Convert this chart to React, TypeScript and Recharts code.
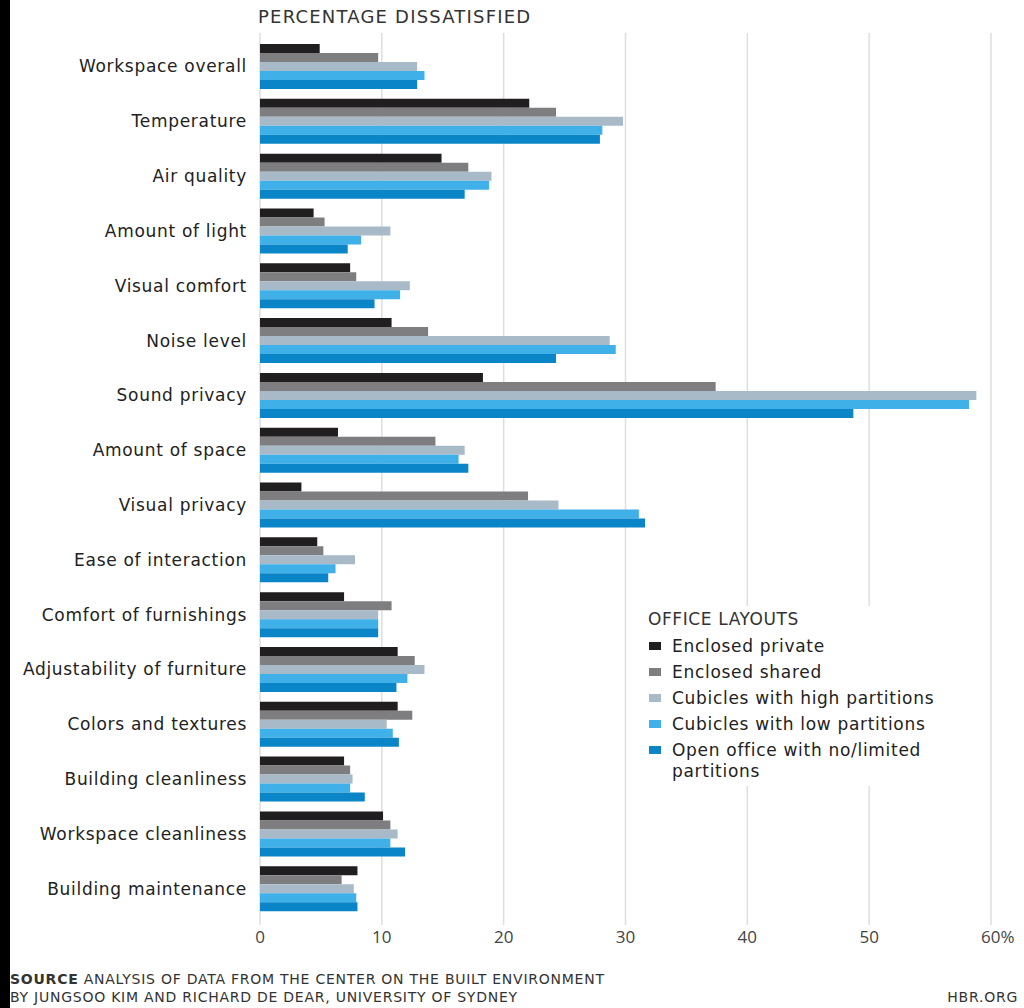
import React from 'react';
import { BarChart, Bar, XAxis, YAxis, CartesianGrid } from 'recharts';

const categories = [
  'Workspace overall', 'Temperature', 'Air quality', 'Amount of light', 'Visual comfort',
  'Noise level', 'Sound privacy', 'Amount of space', 'Visual privacy', 'Ease of interaction',
  'Comfort of furnishings', 'Adjustability of furniture', 'Colors and textures',
  'Building cleanliness', 'Workspace cleanliness', 'Building maintenance',
];

const enclosedPrivate = [4.9, 22.1, 14.9, 4.4, 7.4, 10.8, 18.3, 6.4, 3.4, 4.7, 6.9, 11.3, 11.3, 6.9, 10.1, 8.0];
const enclosedShared = [9.7, 24.3, 17.1, 5.3, 7.9, 13.8, 37.4, 14.4, 22.0, 5.2, 10.8, 12.7, 12.5, 7.4, 10.7, 6.7];
const cubiclesHigh = [12.9, 29.8, 19.0, 10.7, 12.3, 28.7, 58.8, 16.8, 24.5, 7.8, 9.7, 13.5, 10.4, 7.6, 11.3, 7.7];
const cubiclesLow = [13.5, 28.1, 18.8, 8.3, 11.5, 29.2, 58.2, 16.3, 31.1, 6.2, 9.7, 12.1, 10.9, 7.4, 10.7, 7.9];
const openOffice = [12.9, 27.9, 16.8, 7.2, 9.4, 24.3, 48.7, 17.1, 31.6, 5.6, 9.7, 11.2, 11.4, 8.6, 11.9, 8.0];

const xTicks = [0, 10, 20, 30, 40, 50, 60];

const series = [
  { key: 'enclosedPrivate', label: 'Enclosed private', color: '#201e1f' },
  { key: 'enclosedShared', label: 'Enclosed shared', color: '#7e7e80' },
  { key: 'cubiclesHigh', label: 'Cubicles with high partitions', color: '#a8bac8' },
  { key: 'cubiclesLow', label: 'Cubicles with low partitions', color: '#40b0e9' },
  { key: 'openOffice', label: 'Open office with no/limited partitions', color: '#0985c8' },
];

const data = categories.map((name, i) => ({
  name,
  enclosedPrivate: enclosedPrivate[i],
  enclosedShared: enclosedShared[i],
  cubiclesHigh: cubiclesHigh[i],
  cubiclesLow: cubiclesLow[i],
  openOffice: openOffice[i],
}));

const FONT = '"DejaVu Sans", "Open Sans", sans-serif';
const TICK_FONT = '"Open Sans", "Noto Sans", sans-serif';

function XTick(props: any) {
  const { x, y, payload } = props;
  const v = payload.value;
  if (v === 60) {
    return (
      <text x={x - 10} y={y} dy="0.71em" textAnchor="start" fontSize={17} fill="#444" fontFamily={TICK_FONT}>
        60%
      </text>
    );
  }
  return (
    <text x={x} y={y} dy="0.71em" textAnchor="middle" fontSize={17} fill="#444" fontFamily={TICK_FONT}>
      {v}
    </text>
  );
}

export default function App() {
  return (
    <div style={{ position: 'absolute', left: 0, top: 0, width: 1024, height: 1008, background: '#fff', fontFamily: FONT, overflow: 'hidden' }}>
      <div style={{ position: 'absolute', left: 0, top: 0, width: 10, height: 1008, background: '#000' }} />
      <div style={{ position: 'absolute', left: 258, top: 6, fontSize: 18, color: '#333', letterSpacing: 1.2 }}>
        PERCENTAGE DISSATISFIED
      </div>
      <div style={{ position: 'absolute', left: 0, top: 0 }}>
        <BarChart
          width={1024}
          height={950}
          data={data}
          layout="vertical"
          margin={{ top: 33, right: 33, left: 0, bottom: 0 }}
          barCategoryGap={5}
          barGap={0}
        >
          <CartesianGrid horizontal={false} stroke="#dedede" strokeWidth={1.5} />
          <XAxis
            type="number"
            domain={[0, 60]}
            ticks={xTicks}
            axisLine={false}
            tickLine={false}
            tickSize={0}
            tickMargin={6}
            height={25}
            tick={<XTick />}
          />
          <YAxis
            type="category"
            dataKey="name"
            width={260}
            axisLine={false}
            tickLine={false}
            tickSize={0}
            tickMargin={13}
            interval={0}
            padding={{ top: 6, bottom: 9 }}
            tick={{ fontSize: 17, fill: '#222', fontFamily: FONT, letterSpacing: 0.7 }}
          />
          {series.map((s) => (
            <Bar key={s.key} dataKey={s.key} fill={s.color} isAnimationActive={false} />
          ))}
        </BarChart>
      </div>
      <div style={{ position: 'absolute', left: 640, top: 606, width: 305, height: 180, background: '#fff', padding: '0 0 0 8px', boxSizing: 'border-box' }}>
        <div style={{ fontSize: 17, color: '#333', lineHeight: '26px', marginBottom: 4, letterSpacing: 0.6 }}>OFFICE LAYOUTS</div>
        {series.map((s) => (
          <div key={s.key} style={{ position: 'relative', paddingLeft: 24, fontSize: 17, color: '#222', lineHeight: '21px', marginBottom: 5, width: 290, letterSpacing: 0.7 }}>
            <span style={{ position: 'absolute', left: 1, top: 6, width: 12, height: 8, background: s.color }} />
            {s.key === 'openOffice' ? (<>Open office with no/limited<br />partitions</>) : s.label}
          </div>
        ))}
      </div>
      <div style={{ position: 'absolute', left: 10, top: 970, fontSize: 14, color: '#333', lineHeight: '18px', letterSpacing: 0.75 }}>
        <div><b>SOURCE</b> ANALYSIS OF DATA FROM THE CENTER ON THE BUILT ENVIRONMENT</div>
        <div>BY JUNGSOO KIM AND RICHARD DE DEAR, UNIVERSITY OF SYDNEY</div>
      </div>
      <div style={{ position: 'absolute', right: 6, top: 988, fontSize: 14, color: '#333', lineHeight: '18px', letterSpacing: 0.75 }}>
        HBR.ORG
      </div>
    </div>
  );
}
